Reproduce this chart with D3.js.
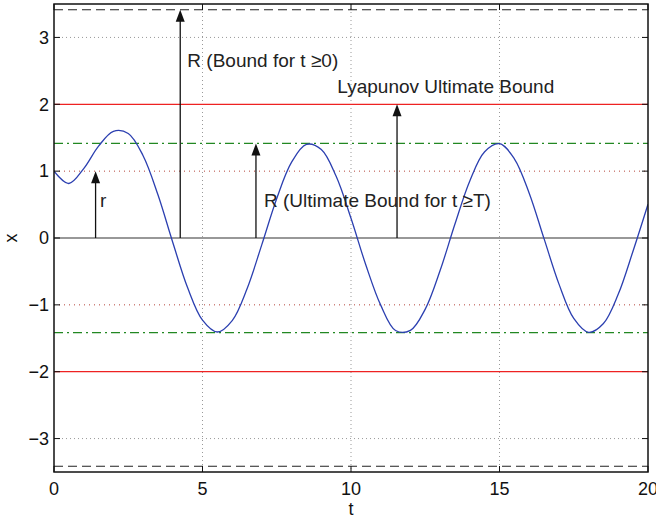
<!DOCTYPE html>
<html>
<head>
<meta charset="utf-8">
<script src="https://cdn.jsdelivr.net/npm/d3@7"></script>
<style>
  html, body { margin: 0; padding: 0; background: #fff; }
  svg { display: block; font-family: "Liberation Sans", Arial, Helvetica, sans-serif; }
</style>
</head>
<body>
<svg id="chart" width="656" height="519"></svg>
<script>
// Trajectory samples x(t)
const tValues = [0,0.5,1,1.5,2,2.5,3,3.5,4,4.5,5,5.5,6,6.5,7,7.5,8,8.5,9,9.5,10,
  10.5,11,11.5,12,12.5,13,13.5,14,14.5,15,15.5,16,16.5,17,17.5,18,18.5,19,19.5,20];
const xValues = [1.00,0.815,1.037,1.373,1.596,1.564,1.231,0.646,-0.067,-0.745,-1.229,
  -1.406,-1.235,-0.759,-0.095,0.592,1.135,1.400,1.323,0.922,0.295,-0.404,-1.004,
  -1.383,-1.381,-1.064,-0.487,0.209,0.854,1.290,1.410,1.185,0.670,-0.010,-0.686,
  -1.203,-1.411,-1.279,-0.839,-0.190,0.505];

// Bound levels
const rLevel = 1;
const ultimateLevel = 1.414;
const lyapunovLevel = 2;
const globalLevel = 3.414;

// Annotation arrows
const arrowT = [1.4, 4.25, 6.8, 11.55];
const arrowTop = [1, 3.414, 1.414, 2];
const arrowLabels = ["r", "R (Bound for t \u22650)", "R (Ultimate Bound for t \u2265T)", "Lyapunov Ultimate Bound"];
const labelT = [1.55, 4.49, 7.07, 9.54];
const labelX = [0.465, 2.56, 0.46, 2.165];

// Ticks
const xTicks = [0, 5, 10, 15, 20];
const yTicks = [-3, -2, -1, 0, 1, 2, 3];

const svg = d3.select("#chart");
const W = 656, H = 519;
const m = { left: 54, right: 8, top: 4, bottom: 47 };
const x = d3.scaleLinear().domain([0, 20]).range([m.left, W - m.right]);
const y = d3.scaleLinear().domain([-3.5, 3.5]).range([H - m.bottom, m.top]);
const x0 = x.range()[0], x1 = x.range()[1];
const y0 = y.range()[0], y1 = y.range()[1];

svg.append("clipPath").attr("id", "plotclip")
  .append("rect").attr("x", x0).attr("y", y1).attr("width", x1 - x0).attr("height", y0 - y1);

const plot = svg.append("g").attr("clip-path", "url(#plotclip)");

// Grid
plot.selectAll(".vgrid").data([5, 10, 15]).join("line")
  .attr("x1", d => x(d)).attr("x2", d => x(d)).attr("y1", y1).attr("y2", y0)
  .attr("stroke", "#999").attr("stroke-width", 1).attr("stroke-dasharray", "1,3");
plot.selectAll(".hgrid").data([-3, 3]).join("line")
  .attr("x1", x0).attr("x2", x1).attr("y1", d => y(d)).attr("y2", d => y(d))
  .attr("stroke", "#999").attr("stroke-width", 1).attr("stroke-dasharray", "1,3");

// Horizontal reference lines
const hline = (v, color, dash, w) => plot.append("line")
  .attr("x1", x0).attr("x2", x1).attr("y1", y(v)).attr("y2", y(v))
  .attr("stroke", color).attr("stroke-width", w).attr("stroke-dasharray", dash);
[rLevel, -rLevel].forEach(v => hline(v, "#b5443a", "1,4", 1));
[lyapunovLevel, -lyapunovLevel].forEach(v => hline(v, "#ee2222", null, 1.2));
[ultimateLevel, -ultimateLevel].forEach(v => hline(v, "#228822", "9,4,2,4", 1.2));
[globalLevel, -globalLevel].forEach(v => hline(v, "#222", "9,5", 1.2));
hline(0, "#333", null, 1.2);

// Trajectory
const line = d3.line().x(d => x(d[0])).y(d => y(d[1])).curve(d3.curveCatmullRom.alpha(0.5));
plot.append("path").datum(tValues.map((t, i) => [t, xValues[i]]))
  .attr("d", line).attr("fill", "none").attr("stroke", "#2b3fb0").attr("stroke-width", 1.3);

// Arrows
arrowT.forEach((t, i) => {
  const ax = x(t), top = y(arrowTop[i]), base = y(0);
  svg.append("line").attr("x1", ax).attr("x2", ax).attr("y1", base).attr("y2", top + 10)
    .attr("stroke", "#111").attr("stroke-width", 1.3);
  svg.append("path")
    .attr("d", `M${ax},${top} L${ax - 4.5},${top + 12} L${ax + 4.5},${top + 12} Z`)
    .attr("fill", "#111");
});

// Arrow labels
arrowLabels.forEach((txt, i) => {
  svg.append("text")
    .attr("x", x(labelT[i]))
    .attr("y", y(labelX[i]))
    .attr("font-size", 19).attr("fill", "#222").text(txt);
});

// Axes box
svg.append("rect").attr("x", x0).attr("y", y1).attr("width", x1 - x0).attr("height", y0 - y1)
  .attr("fill", "none").attr("stroke", "#111").attr("stroke-width", 1.5);

// Inward ticks on all sides
const tl = 6;
xTicks.forEach(v => {
  svg.append("line").attr("x1", x(v)).attr("x2", x(v)).attr("y1", y0).attr("y2", y0 - tl).attr("stroke", "#111");
  svg.append("line").attr("x1", x(v)).attr("x2", x(v)).attr("y1", y1).attr("y2", y1 + tl).attr("stroke", "#111");
});
yTicks.forEach(v => {
  svg.append("line").attr("x1", x0).attr("x2", x0 + tl).attr("y1", y(v)).attr("y2", y(v)).attr("stroke", "#111");
  svg.append("line").attr("x1", x1).attr("x2", x1 - tl).attr("y1", y(v)).attr("y2", y(v)).attr("stroke", "#111");
});

// Tick labels
const fmt = v => (v < 0 ? "\u2212" + Math.abs(v) : String(v));
svg.selectAll(".xl").data(xTicks).join("text")
  .attr("x", d => x(d)).attr("y", y0 + 23).attr("text-anchor", "middle")
  .attr("font-size", 18).attr("fill", "#111").text(fmt);
svg.selectAll(".yl").data(yTicks).join("text")
  .attr("x", x0 - 5).attr("y", d => y(d)).attr("dy", "0.35em").attr("text-anchor", "end")
  .attr("font-size", 18).attr("fill", "#111").text(fmt);

// Axis titles
svg.append("text").attr("x", (x0 + x1) / 2).attr("y", y0 + 43).attr("text-anchor", "middle")
  .attr("font-size", 18).attr("fill", "#111").text("t");
svg.append("text").attr("transform", `translate(17,${y(0)}) rotate(-90)`).attr("text-anchor", "middle")
  .attr("font-size", 18).attr("fill", "#111").text("x");
</script>
</body>
</html>
